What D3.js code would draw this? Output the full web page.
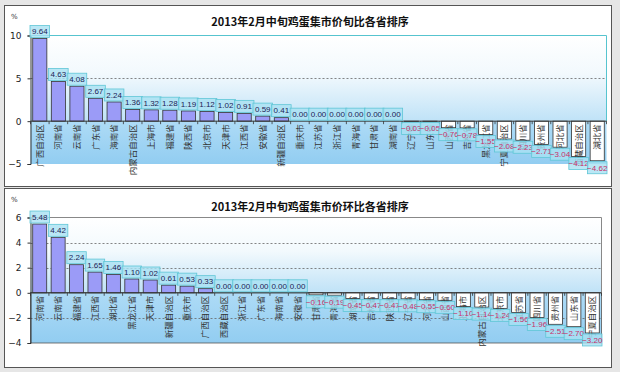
<!DOCTYPE html>
<html>
<head>
<meta charset="utf-8">
<script src="https://cdn.jsdelivr.net/npm/d3@7"></script>
<style>
  body { margin: 0; background: #e6e6e6; }
  svg { display: block; }
</style>
</head>
<body>
<div id="chart"></div>
<script>
// 旬比 (top chart)
let xunbiProvinces = ["广西自治区", "河南省", "云南省", "广东省", "海南省", "内蒙古自治区", "上海市", "福建省",
    "陕西省", "北京市", "天津市", "江西省", "安徽省", "新疆自治区", "重庆市", "江苏省", "浙江省", "青海省",
    "甘肃省", "湖南省", "辽宁省", "山东省", "山西省", "吉林省", "黑龙江省", "宁夏自治区", "四川省", "贵州省",
    "河北省", "西藏自治区", "湖北省"];
let xunbiValues = [9.64, 4.63, 4.08, 2.67, 2.24, 1.36, 1.32, 1.28, 1.19, 1.12, 1.02, 0.91, 0.59, 0.41,
    0.00, 0.00, 0.00, 0.00, 0.00, 0.00, -0.03, -0.05, -0.76, -0.78, -1.55, -2.08, -2.23, -2.71, -3.04, -4.12, -4.62];
let xunbiTicks = [-5, 0, 5, 10];

// 环比 (bottom chart)
let huanbiProvinces = ["河南省", "云南省", "福建省", "江西省", "湖北省", "黑龙江省", "天津市", "新疆自治区",
    "重庆市", "广西自治区", "西藏自治区", "浙江省", "广东省", "海南省", "安徽省", "甘肃省", "青海省", "湖南省",
    "吉林省", "陕西省", "辽宁省", "河北省", "山西省", "上海市", "内蒙古自治区", "北京市", "江苏省", "四川省",
    "贵州省", "山东省", "宁夏自治区"];
let huanbiValues = [5.48, 4.42, 2.24, 1.65, 1.46, 1.10, 1.02, 0.61, 0.53, 0.33, 0.00, 0.00, 0.00, 0.00, 0.00,
    -0.16, -0.19, -0.45, -0.47, -0.47, -0.48, -0.55, -0.60, -1.10, -1.14, -1.24, -1.56, -1.96, -2.51, -2.70, -3.20];
let huanbiTicks = [-4, -2, 0, 2, 4, 6];

const W = 620, H = 372;
const fmt = d3.format(".2f");

const svg = d3.select("#chart")
    .append("svg")
    .attr("width", W)
    .attr("height", H);

svg.append("rect").attr("width", W).attr("height", H).attr("fill", "#e6e6e6");

const defs = svg.append("defs");
let addGradient = (id, stops) => {
    let g = defs.append("linearGradient").attr("id", id)
        .attr("x1", 0).attr("y1", 0).attr("x2", 0).attr("y2", 1);
    stops.forEach(s => g.append("stop").attr("offset", s[0]).attr("stop-color", s[1]));
};
addGradient("topFade", [[0, "#ffffff"], [0.45, "#f2f9fd"], [1, "#bfe2f7"]]);
addGradient("lowBand", [[0, "#aedbf6"], [1, "#92cdf1"]]);

let drawChart = (cfg) => {
    const g = svg.append("g");

    // panel
    g.append("rect")
        .attr("x", cfg.panel[0]).attr("y", cfg.panel[1])
        .attr("width", cfg.panel[2]).attr("height", cfg.panel[3])
        .attr("fill", "#fff").attr("stroke", "#555").attr("stroke-width", 1);

    const x = d3.scaleBand()
        .domain(cfg.names)
        .range([cfg.left, cfg.right])
        .paddingInner(0.24)
        .paddingOuter(0.12);
    const y = d3.scaleLinear()
        .domain(cfg.domain)
        .range([cfg.bottom, cfg.top]);
    const y0 = y(0);
    const step = x.step();

    // plot background: fade above zero, blue band below
    g.append("rect")
        .attr("x", cfg.left).attr("y", cfg.top)
        .attr("width", cfg.right - cfg.left).attr("height", y0 - cfg.top)
        .attr("fill", "url(#topFade)");
    g.append("rect")
        .attr("x", cfg.left).attr("y", y0)
        .attr("width", cfg.right - cfg.left).attr("height", cfg.bottom - y0)
        .attr("fill", "url(#lowBand)")
        .attr("stroke", cfg.bandStroke).attr("stroke-width", 0.8);

    // frame
    g.append("path")
        .attr("d", "M" + cfg.left + "," + cfg.top + "H" + cfg.right + "V" + y0)
        .attr("fill", "none").attr("stroke", cfg.frame).attr("stroke-width", 1);

    // dotted grid
    g.selectAll(".grid")
        .data(cfg.grid)
        .enter()
        .append("line")
        .attr("x1", cfg.left).attr("x2", cfg.right)
        .attr("y1", d => Math.round(y(d)) + 0.5).attr("y2", d => Math.round(y(d)) + 0.5)
        .attr("stroke", "#666").attr("stroke-width", 0.8)
        .attr("stroke-dasharray", "2,2");

    // y axis
    const yAxis = d3.axisLeft(y).tickValues(cfg.ticks).tickSize(3).tickFormat(d3.format("d"));
    const ya = g.append("g")
        .attr("transform", "translate(" + cfg.left + ",0)")
        .call(yAxis);
    ya.select(".domain").attr("stroke", "#333");
    ya.selectAll("line").attr("stroke", "#333");
    ya.selectAll("text")
        .attr("x", -9)
        .attr("fill", "#222")
        .style("font-family", "DejaVu Sans, sans-serif")
        .style("font-size", "9px");

    g.append("text")
        .attr("x", 11).attr("y", cfg.panel[1] + 13)
        .attr("fill", "#333")
        .style("font-family", "DejaVu Sans, sans-serif")
        .style("font-size", "7px")
        .text("%");

    // title
    g.append("text")
        .attr("x", 310).attr("y", cfg.titleY)
        .attr("text-anchor", "middle")
        .attr("fill", "#111")
        .style("font-family", "Noto Sans CJK SC, sans-serif")
        .style("font-weight", "bold")
        .style("font-size", "11px")
        .text(cfg.title);

    const data = cfg.names.map((n, i) => ({ name: n, value: cfg.values[i] }));

    // bars
    g.selectAll(".bar")
        .data(data)
        .enter()
        .append("rect")
        .attr("x", d => x(d.name))
        .attr("y", d => Math.min(y(d.value), y0))
        .attr("width", x.bandwidth())
        .attr("height", d => Math.abs(y(d.value) - y0))
        .attr("fill", d => d.value < 0 ? "#ffffff" : "#9b9bf7")
        .attr("stroke", "#333")
        .attr("stroke-width", 0.8);

    // category labels (rotated, reading upward), drawn over the bars
    g.selectAll(".cat")
        .data(data)
        .enter()
        .append("text")
        .attr("transform", d => "translate(" + (x(d.name) + x.bandwidth() / 2) + "," + (y0 + 3) + ") rotate(-90)")
        .attr("text-anchor", "end")
        .attr("dy", "0.35em")
        .attr("fill", "#333")
        .style("font-family", "Noto Sans CJK SC, sans-serif")
        .style("font-size", "8.5px")
        .text(d => d.name);

    // x axis line and ticks
    g.append("line")
        .attr("x1", cfg.left).attr("x2", cfg.right)
        .attr("y1", y0).attr("y2", y0)
        .attr("stroke", "#333").attr("stroke-width", 1);
    g.selectAll(".xtick")
        .data(d3.range(cfg.names.length + 1))
        .enter()
        .append("line")
        .attr("x1", i => cfg.left + i * step).attr("x2", i => cfg.left + i * step)
        .attr("y1", y0).attr("y2", y0 + 3)
        .attr("stroke", "#333").attr("stroke-width", 0.8);

    // value labels
    const lab = g.selectAll(".lab")
        .data(data)
        .enter()
        .append("g")
        .attr("transform", d => {
            let cx = x(d.name) + x.bandwidth() / 2;
            let ty = d.value < 0 ? y(d.value) + 1 : y(d.value) - 13;
            return "translate(" + cx + "," + ty + ")";
        });
    lab.append("rect")
        .attr("x", -step / 2 - 0.5).attr("y", 0)
        .attr("width", step + 1).attr("height", 12)
        .attr("fill", "#a9e1f2").attr("fill-opacity", 0.8)
        .attr("stroke", "#5fc6d6").attr("stroke-width", 0.8);
    lab.append("text")
        .attr("x", 0).attr("y", 8.8)
        .attr("text-anchor", "middle")
        .attr("fill", d => d.value < 0 ? "#c8306a" : "#1c1c55")
        .style("font-family", "Liberation Sans, sans-serif")
        .style("font-size", "8px")
        .text(d => fmt(d.value));
};

drawChart({
    panel: [4.5, 5.5, 607, 181],
    title: "2013年2月中旬鸡蛋集市价旬比各省排序",
    titleY: 26,
    names: xunbiProvinces,
    values: xunbiValues,
    ticks: xunbiTicks,
    grid: [5],
    domain: [-5, 10],
    left: 30.5, right: 606.5, top: 35.5, bottom: 164,
    frame: "#56c4cf",
    bandStroke: "none"
});

drawChart({
    panel: [4.5, 188.5, 607, 179],
    title: "2013年2月中旬鸡蛋集市价环比各省排序",
    titleY: 211,
    names: huanbiProvinces,
    values: huanbiValues,
    ticks: huanbiTicks,
    grid: [4, 2, -2],
    domain: [-4, 6],
    left: 30.5, right: 601.5, top: 217.5, bottom: 343,
    frame: "#888",
    bandStroke: "#555"
});
</script>
</body>
</html>
